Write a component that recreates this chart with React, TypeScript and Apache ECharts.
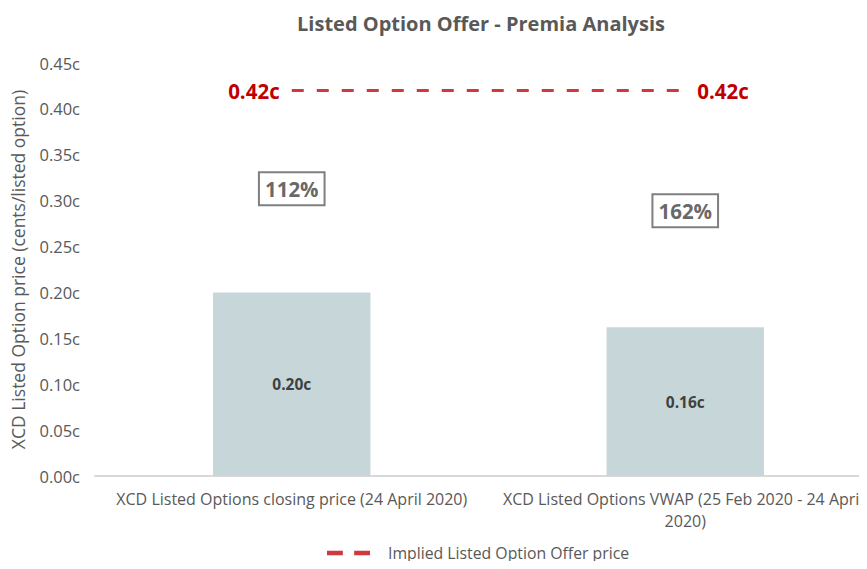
import React, { useEffect, useRef } from "react";
import * as echarts from "echarts";

const categories = [
  "XCD Listed Options closing price (24 April 2020)",
  "XCD Listed Options VWAP (25 Feb 2020 - 24 April 2020)",
];
const barValues = [0.2, 0.162];
const offerName = "Implied Listed Option Offer price";
const offerValues = [0.42, 0.42];
const premiaLabels = ["112%", "162%"];
const premiaLabelY = [0.313, 0.289];

const FONT = "Open Sans";
const GREY = "#595959";

export default function App() {
  const ref = useRef<HTMLDivElement>(null);
  useEffect(() => {
    if (!ref.current) return;
    const chart = echarts.init(ref.current, undefined, { renderer: "svg" });
    chart.setOption({
      animation: false,
      textStyle: { fontFamily: FONT },
      title: {
        text: "Listed Option Offer - Premia Analysis",
        left: 476,
        textAlign: "center",
        top: 8,
        textStyle: { fontFamily: FONT, fontSize: 20, fontWeight: "bold", color: GREY },
      },
      legend: {
        top: 545,
        left: 327,
        padding: 0,
        icon: "path://M0,0h14v4h-14z M24,0h14v4h-14z",
        itemWidth: 43,
        itemHeight: 5,
        itemGap: 12,
        data: [offerName],
        textStyle: { fontFamily: FONT, fontSize: 15.8, color: GREY, padding: [0, 0, 0, 13] },
      },
      grid: {
        left: 95,
        width: 787,
        top: 63,
        bottom: 93,
        containLabel: false,
        outerBoundsMode: "none",
      },
      xAxis: {
        type: "category",
        data: categories,
        axisTick: { show: false },
        axisLine: { lineStyle: { color: "#d9d9d9", width: 2 } },
        axisLabel: {
          interval: 0,
          color: GREY,
          fontFamily: FONT,
          fontSize: 16,
          margin: 12,
          width: 385,
          overflow: "break",
          lineHeight: 22,
        },
      },
      yAxis: {
        type: "value",
        min: 0,
        max: 0.45,
        interval: 0.05,
        name: "XCD Listed Option price (cents/listed option)",
        nameLocation: "middle",
        nameGap: 68,
        nameTextStyle: { fontFamily: FONT, fontSize: 17.5, color: GREY },
        splitLine: { show: false },
        axisLine: { show: false },
        axisTick: { show: false },
        axisLabel: {
          color: GREY,
          fontFamily: FONT,
          fontSize: 16.5,
          margin: 15,
          formatter: (v: number) => v.toFixed(2) + "c",
        },
      },
      series: [
        {
          type: "bar",
          name: "Premia",
          data: barValues,
          barWidth: "40%",
          itemStyle: { color: "#c7d7d9" },
          label: {
            show: true,
            position: "inside",
            fontFamily: FONT,
            fontSize: 15.5,
            fontWeight: "bold",
            color: "#404040",
            formatter: (p: any) => p.value.toFixed(2) + "c",
          },
        },
        {
          type: "line",
          name: offerName,
          data: offerValues.map((v, i) => ({
            value: v,
            label: { position: i === 0 ? "left" : "right" },
          })),
          symbol: "circle",
          symbolSize: 0.1,
          showSymbol: true,
          lineStyle: { color: "#d0383c", width: 3, type: [12, 13] },
          itemStyle: { color: "#d0383c" },
          label: {
            show: true,
            distance: 12,
            fontFamily: FONT,
            fontSize: 20.5,
            fontWeight: "bold",
            color: "#c00000",
            formatter: (p: any) => p.value.toFixed(2) + "c",
          },
        },
        {
          type: "scatter",
          name: "annotations",
          data: premiaLabelY,
          symbolSize: 0,
          silent: true,
          label: {
            show: true,
            position: "inside",
            fontFamily: FONT,
            fontSize: 20.5,
            fontWeight: "bold",
            color: "#404040",
            borderColor: "#5f5f5f",
            borderWidth: 2,
            padding: [7, 6, 5, 6],
            formatter: (p: any) => premiaLabels[p.dataIndex],
          },
        },
      ],
    });
    return () => chart.dispose();
  }, []);
  return <div ref={ref} style={{ width: 867, height: 569, margin: -8 }} />;
}
